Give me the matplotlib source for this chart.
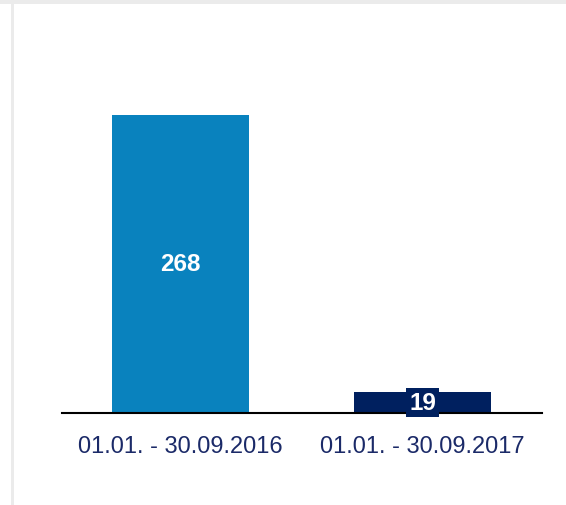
import matplotlib.pyplot as plt
from matplotlib.patches import Rectangle

periods = ['01.01. - 30.09.2016', '01.01. - 30.09.2017']
values = [268, 19]
colors = ['#0982be', '#00205f']

plt.rcParams['font.family'] = ['Liberation Sans', 'DejaVu Sans']

W, H = 566, 506
fig = plt.figure(figsize=(W / 100, H / 100), dpi=100)

# page frame (light grey top and left edges)
fig.patches.append(Rectangle((0, 1 - 5 / H), 1, 5 / H, transform=fig.transFigure,
                             facecolor='#ebebeb', edgecolor='none'))
fig.patches.append(Rectangle((11 / W, 0), 3 / W, 1, transform=fig.transFigure,
                             facecolor='#ebebeb', edgecolor='none'))

ax = fig.add_axes([62 / W, 1 - 414 / H, 480 / W, (414 - 80) / H])
x = [0, 1]
ax.bar(x, values, width=0.566, color=colors)
ax.set_xlim(-0.49, 1.494)
ax.set_ylim(0, 300)

ax.text(0, values[0] / 2, str(values[0]), ha='center', va='center',
        color='white', fontsize=17.5, fontweight='bold')
ax.text(1, values[1] / 2, str(values[1]), ha='center', va='center',
        color='white', fontsize=17.5, fontweight='bold',
        bbox=dict(boxstyle='square,pad=0.12', facecolor=colors[1], edgecolor='none'))

for s in ['top', 'right', 'left']:
    ax.spines[s].set_visible(False)
ax.spines['bottom'].set_linewidth(1.5)
ax.spines['bottom'].set_color('black')
ax.set_yticks([])
ax.set_xticks(x)
ax.set_xticklabels(periods, color='#1b2a68', fontsize=17)
ax.tick_params(axis='x', length=0, pad=16)

fig.savefig('out.png', dpi=100)
